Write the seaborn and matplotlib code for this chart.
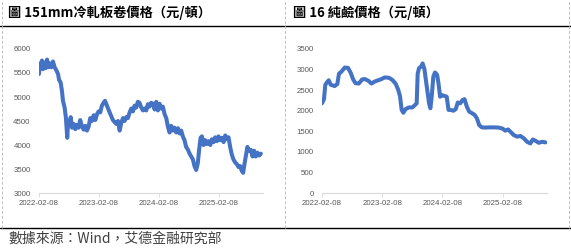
import matplotlib
matplotlib.use("Agg")
import matplotlib.pyplot as plt
import matplotlib.dates as mdates
from matplotlib.lines import Line2D
import seaborn as sns
import pandas as pd

# ---------------- data ----------------
steel_dates = [
    "2022-02-08", "2022-02-14", "2022-02-20", "2022-02-26", "2022-03-04", "2022-03-12",
    "2022-03-21", "2022-03-29", "2022-04-06", "2022-04-14", "2022-04-24", "2022-05-04",
    "2022-05-14", "2022-05-24", "2022-06-04", "2022-06-10", "2022-06-20", "2022-06-28",
    "2022-07-04", "2022-07-14", "2022-07-22", "2022-07-30", "2022-08-05", "2022-08-14",
    "2022-08-20", "2022-08-28", "2022-09-07", "2022-09-17", "2022-09-27", "2022-10-07",
    "2022-10-17", "2022-10-28", "2022-11-07", "2022-11-17", "2022-11-27", "2022-12-07",
    "2022-12-17", "2022-12-27", "2023-01-07", "2023-01-17", "2023-01-27", "2023-02-06",
    "2023-02-16", "2023-02-26", "2023-03-08", "2023-03-17", "2023-03-25", "2023-04-04",
    "2023-04-14", "2023-04-24", "2023-05-04", "2023-05-14", "2023-05-24", "2023-06-04",
    "2023-06-14", "2023-06-24", "2023-07-04", "2023-07-14", "2023-07-24", "2023-08-03",
    "2023-08-14", "2023-08-24", "2023-09-03", "2023-09-13", "2023-09-23", "2023-10-03",
    "2023-10-13", "2023-10-24", "2023-11-03", "2023-11-13", "2023-11-23", "2023-12-03",
    "2023-12-13", "2023-12-23", "2024-01-03", "2024-01-13", "2024-01-23", "2024-02-02",
    "2024-02-12", "2024-02-22", "2024-03-03", "2024-03-14", "2024-03-24", "2024-04-03",
    "2024-04-13", "2024-04-23", "2024-05-03", "2024-05-13", "2024-05-24", "2024-06-03",
    "2024-06-13", "2024-06-23", "2024-07-03", "2024-07-13", "2024-07-23", "2024-08-03",
    "2024-08-13", "2024-08-23", "2024-09-02", "2024-09-12", "2024-09-22", "2024-10-02",
    "2024-10-10", "2024-10-19", "2024-10-27", "2024-11-06", "2024-11-16", "2024-11-26",
    "2024-12-06", "2024-12-17", "2024-12-27", "2025-01-06", "2025-01-16", "2025-01-26",
    "2025-02-05", "2025-02-15", "2025-02-25", "2025-03-08", "2025-03-18", "2025-03-28",
    "2025-04-07", "2025-04-17", "2025-04-27", "2025-05-07", "2025-05-17", "2025-05-28",
    "2025-06-07", "2025-06-17", "2025-06-27", "2025-07-05", "2025-07-13", "2025-07-23",
    "2025-07-31", "2025-08-11", "2025-08-21", "2025-08-31", "2025-09-10", "2025-09-20",
    "2025-09-30", "2025-10-11", "2025-10-21",
]
steel_values = [
    5480, 5700, 5600, 5760, 5580, 5720,
    5600, 5780, 5620, 5700, 5620, 5740,
    5620, 5560, 5480, 5360, 5300, 5120,
    4920, 4780, 4560, 4150, 4500, 4450,
    4580, 4360, 4440, 4330, 4420, 4360,
    4520, 4380, 4320, 4400, 4300, 4380,
    4560, 4500, 4620, 4520, 4640, 4700,
    4680, 4820, 4880, 4920, 4850, 4760,
    4680, 4600, 4520, 4480, 4440, 4500,
    4300, 4460, 4560, 4500, 4580, 4560,
    4680, 4760, 4700, 4820, 4780, 4900,
    4880, 4780, 4720, 4760, 4720, 4850,
    4800, 4880, 4860, 4740, 4900, 4720,
    4860, 4760, 4800, 4640, 4560, 4380,
    4260, 4400, 4300, 4360, 4260, 4350,
    4240, 4300, 4180, 4100, 3960, 3900,
    3820, 3760, 3700, 3560, 3480, 3620,
    3900, 4150, 4180, 4000, 4100, 4020,
    4080, 4000, 4120, 4060, 4160, 4080,
    4180, 4100, 4150, 4060, 4200, 4120,
    4160, 3960, 3800, 3700, 3640, 3600,
    3540, 3560, 3460, 3420, 3600, 3800,
    3960, 3880, 3900, 3760, 3880, 3760,
    3840, 3780, 3820,
]

soda_dates = [
    "2022-02-08", "2022-02-20", "2022-02-28", "2022-03-12", "2022-03-21", "2022-04-02",
    "2022-04-26", "2022-05-12", "2022-05-22", "2022-06-06", "2022-06-26", "2022-07-16",
    "2022-08-01", "2022-08-16", "2022-08-30", "2022-09-19", "2022-10-09", "2022-10-26",
    "2022-11-19", "2022-12-05", "2022-12-25", "2023-01-15", "2023-02-04", "2023-02-24",
    "2023-03-21", "2023-04-10", "2023-04-30", "2023-05-16", "2023-05-27", "2023-06-06",
    "2023-06-16", "2023-06-30", "2023-07-20", "2023-08-10", "2023-08-26", "2023-09-05",
    "2023-09-11", "2023-09-19", "2023-10-05", "2023-10-11", "2023-10-22", "2023-11-05",
    "2023-11-19", "2023-11-27", "2023-12-05", "2023-12-15", "2023-12-25", "2024-01-07",
    "2024-01-15", "2024-01-25", "2024-02-04", "2024-02-20", "2024-03-05", "2024-03-16",
    "2024-03-26", "2024-04-15", "2024-04-29", "2024-05-11", "2024-05-26", "2024-06-09",
    "2024-06-21", "2024-07-05", "2024-07-19", "2024-08-05", "2024-08-21", "2024-09-04",
    "2024-09-18", "2024-10-04", "2024-10-25", "2024-11-18", "2024-12-14", "2025-01-14",
    "2025-02-07", "2025-02-23", "2025-03-12", "2025-03-26", "2025-04-15", "2025-05-05",
    "2025-05-26", "2025-06-15", "2025-07-05", "2025-07-25", "2025-08-09", "2025-08-25",
    "2025-09-14", "2025-10-04", "2025-10-25",
]
soda_values = [
    2180, 2280, 2630, 2700, 2740, 2630,
    2600, 2650, 2900, 2950, 3050, 3040,
    2920, 2760, 2670, 2660, 2760, 2770,
    2720, 2660, 2710, 2740, 2770, 2810,
    2800, 2750, 2660, 2510, 2350, 2020,
    1950, 2040, 2080, 2080, 2140, 2180,
    2900, 3030, 3090, 3150, 3010, 2590,
    2180, 2060, 2340, 2830, 2930, 2870,
    2670, 2340, 2380, 2360, 2340, 2020,
    2020, 2000, 2040, 2200, 2180, 2260,
    2280, 2100, 1980, 1940, 1900, 1815,
    1650, 1595, 1590, 1595, 1595, 1590,
    1565, 1515, 1545, 1490, 1410, 1370,
    1385, 1330, 1245, 1205, 1300, 1270,
    1220, 1245, 1230,
]

steel_title = "圖 151mm冷軋板卷價格（元/頓）"
soda_title = "圖 16 純鹼價格（元/頓）"
source_text = "數據來源：Wind，艾德金融研究部"
tick_dates = ["2022-02-08", "2023-02-08", "2024-02-08", "2025-02-08"]
steel_yticks = [3000, 3500, 4000, 4500, 5000, 5500, 6000]
soda_yticks = [0, 500, 1000, 1500, 2000, 2500, 3000, 3500]

# ---------------- style ----------------
sns.set_style("white")
plt.rcParams["font.family"] = ["Liberation Sans", "Noto Sans CJK TC", "DejaVu Sans"]

W, H = 571, 248
fig = plt.figure(figsize=(W / 100, H / 100), dpi=100)

LINE_C = "#4472C4"
TICK_C = "#595959"
AX_C = "#D9D9D9"
cjk = ["Noto Sans CJK TC", "DejaVu Sans"]

steel_df = pd.DataFrame({"date": pd.to_datetime(steel_dates), "price": steel_values})
soda_df = pd.DataFrame({"date": pd.to_datetime(soda_dates), "price": soda_values})

ax1 = fig.add_axes([39 / W, 55 / H, 224 / W, 144 / H])
ax2 = fig.add_axes([322 / W, 55 / H, 225 / W, 144 / H])

xlim = (pd.Timestamp("2022-02-08"), pd.Timestamp("2025-11-03"))

for ax, df, yt in [(ax1, steel_df, steel_yticks), (ax2, soda_df, soda_yticks)]:
    sns.lineplot(data=df, x="date", y="price", ax=ax, color=LINE_C, linewidth=2.9)
    ax.set_xlim(*xlim)
    ax.set_ylim(yt[0], yt[-1])
    ax.set_yticks(yt)
    ax.set_xticks(pd.to_datetime(tick_dates))
    ax.xaxis.set_major_formatter(mdates.DateFormatter("%Y-%m-%d"))
    ax.set_xlabel("")
    ax.set_ylabel("")
    for s in ["top", "right", "left"]:
        ax.spines[s].set_visible(False)
    ax.spines["bottom"].set_color(AX_C)
    ax.spines["bottom"].set_linewidth(0.8)
    ax.tick_params(axis="x", which="major", length=3, width=0.6, color=AX_C,
                   labelsize=5.7, labelcolor=TICK_C, pad=2, direction="out", bottom=True)
    ax.tick_params(axis="y", length=0, labelsize=5.7, labelcolor=TICK_C, pad=6)
    ax.grid(False)
    ax.set_facecolor("none")

# titles
fig.text(8 / W, 1 - 13 / H, steel_title, family=cjk, fontsize=9.5, fontweight="bold",
         color="black", va="center", ha="left")
fig.text(293 / W, 1 - 13 / H, soda_title, family=cjk, fontsize=9.5, fontweight="bold",
         color="black", va="center", ha="left")

# frame lines
fig.add_artist(Line2D([0, 1], [1 - 26 / H, 1 - 26 / H], transform=fig.transFigure,
                      color="black", linewidth=1.0))
fig.add_artist(Line2D([0, 1], [1 - 228 / H, 1 - 228 / H], transform=fig.transFigure,
                      color="black", linewidth=1.0))
for xp in [1.5, 285, 569]:
    fig.add_artist(Line2D([xp / W, xp / W], [1 - 228 / H, 1], transform=fig.transFigure,
                          color="#BFBFBF", linewidth=0.7, linestyle=(0, (3, 2))))

# source
fig.text(8 / W, 1 - 239 / H, source_text, family=cjk, fontsize=10, style="italic",
         color="#404040", va="center", ha="left")

fig.savefig("out.png", dpi=100)
